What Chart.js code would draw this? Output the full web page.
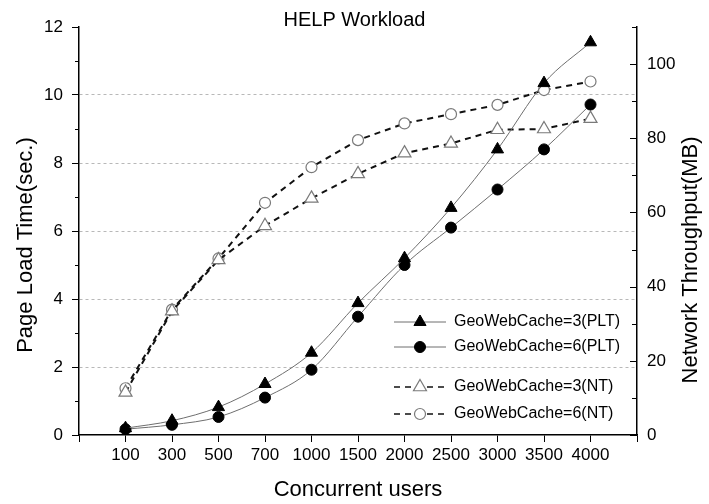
<!DOCTYPE html>
<html>
<head>
<meta charset="utf-8">
<title>HELP Workload</title>
<script src="https://cdn.jsdelivr.net/npm/chart.js@4.4.0/dist/chart.umd.min.js"></script>
<style>
  html, body { margin: 0; padding: 0; background: #fff; }
  #wrap { width: 709px; height: 504px; }
</style>
</head>
<body>
<div id="wrap"><canvas id="chart" width="709" height="504"></canvas></div>
<script>
// --- values ---
const users = ['100', '300', '500', '700', '1000', '1500', '2000', '2500', '3000', '3500', '4000'];
// page load time, seconds (left axis)
const pltGwc3 = [0.2, 0.42, 0.82, 1.5, 2.42, 3.88, 5.2, 6.68, 8.4, 10.35, 11.55];
const pltGwc6 = [0.17, 0.3, 0.53, 1.1, 1.92, 3.48, 5.0, 6.1, 7.22, 8.4, 9.72];
// network throughput, MB (right axis)
const ntGwc3 = [11.5, 33.4, 47.2, 56.4, 63.8, 70.4, 76.0, 78.6, 82.3, 82.5, 85.3];
const ntGwc6 = [12.6, 33.8, 47.6, 62.6, 72.2, 79.5, 84.0, 86.5, 89.0, 93.0, 95.3];

const FONT = '"Liberation Sans", Arial, sans-serif';

// users are spread evenly, one slot each, with an empty slot at both ends
const toPoints = arr => arr.map((v, i) => ({ x: i + 1, y: v }));

// minor ticks, inward ticks on the right axis, rotated axis titles
const axisExtras = {
    id: 'axisExtras',
    afterDraw(chart) {
        const ctx = chart.ctx;
        const yL = chart.scales.y;
        const yR = chart.scales.y1;
        const area = chart.chartArea;
        ctx.save();
        ctx.strokeStyle = '#000';
        ctx.lineWidth = 1;
        ctx.beginPath();
        for (let v = 1; v < 12; v += 2) {
            const py = Math.round(yL.getPixelForValue(v)) + 0.5;
            ctx.moveTo(area.left - 4, py);
            ctx.lineTo(area.left, py);
        }
        for (let v = 0; v <= 110; v += 10) {
            const py = Math.round(yR.getPixelForValue(v)) + 0.5;
            const len = v % 20 === 0 ? 7 : 5;
            ctx.moveTo(area.right - len, py);
            ctx.lineTo(area.right, py);
        }
        ctx.stroke();

        ctx.fillStyle = '#000';
        ctx.font = '22px ' + FONT;
        ctx.textAlign = 'center';
        ctx.textBaseline = 'middle';
        ctx.translate(26, 245);
        ctx.rotate(-Math.PI / 2);
        ctx.fillText('Page Load Time(sec.)', 0, 0);
        ctx.setTransform(1, 0, 0, 1, 0, 0);
        ctx.translate(691, 260);
        ctx.rotate(-Math.PI / 2);
        ctx.fillText('Network Throughput(MB)', 0, 0);
        ctx.restore();
    }
};

// legend drawn inside the plot, line sample with the marker on it
const innerLegend = {
    id: 'innerLegend',
    afterDraw(chart) {
        const ctx = chart.ctx;
        const rows = [322, 347, 387, 414];
        ctx.save();
        chart.data.datasets.forEach((ds, i) => {
            const y = rows[i];
            ctx.strokeStyle = ds.borderColor;
            ctx.lineWidth = ds.borderDash ? 1.5 : 1;
            ctx.setLineDash(ds.borderDash ? [6, 5] : []);
            ctx.beginPath();
            ctx.moveTo(394, y);
            ctx.lineTo(446, y);
            ctx.stroke();
            ctx.setLineDash([]);
            ctx.fillStyle = ds.pointBackgroundColor;
            ctx.strokeStyle = ds.pointBorderColor;
            ctx.lineWidth = ds.pointBorderWidth;
            Chart.helpers.drawPoint(ctx, {
                pointStyle: ds.pointStyle,
                radius: ds.pointRadius,
                rotation: 0,
                borderWidth: ds.pointBorderWidth
            }, 420, y);
            ctx.fillStyle = '#000';
            ctx.font = '16px ' + FONT;
            ctx.textAlign = 'left';
            ctx.textBaseline = 'middle';
            ctx.fillText(ds.label, 454, y);
        });
        ctx.restore();
    }
};

const pltStyle = {
    yAxisID: 'y',
    borderColor: '#6e6e6e',
    borderWidth: 1,
    pointBackgroundColor: '#000',
    pointBorderColor: '#000',
    pointBorderWidth: 1,
    cubicInterpolationMode: 'monotone'
};
const ntStyle = {
    yAxisID: 'y1',
    borderColor: '#111',
    borderWidth: 2,
    borderDash: [6, 5],
    pointBackgroundColor: '#fff',
    pointBorderColor: '#7a7a7a',
    pointBorderWidth: 1.2,
    tension: 0
};

new Chart(document.getElementById('chart'), {
    type: 'line',
    data: {
        datasets: [
            { ...pltStyle, label: 'GeoWebCache=3(PLT)', data: toPoints(pltGwc3), pointStyle: 'triangle', pointRadius: 7 },
            { ...pltStyle, label: 'GeoWebCache=6(PLT)', data: toPoints(pltGwc6), pointStyle: 'circle', pointRadius: 5.5 },
            { ...ntStyle, label: 'GeoWebCache=3(NT)', data: toPoints(ntGwc3), pointStyle: 'triangle', pointRadius: 7.5 },
            { ...ntStyle, label: 'GeoWebCache=6(NT)', data: toPoints(ntGwc6), pointStyle: 'circle', pointRadius: 5.5 }
        ]
    },
    options: {
        responsive: false,
        animation: false,
        devicePixelRatio: 1,
        layout: { padding: 0 },
        plugins: {
            legend: { display: false },
            tooltip: { enabled: false },
            title: {
                display: true,
                text: 'HELP Workload',
                color: '#000',
                font: { family: FONT, size: 20, weight: 'normal', lineHeight: 0.7 },
                padding: { top: 13, bottom: 0 }
            }
        },
        scales: {
            x: {
                type: 'linear',
                min: 0,
                max: 12,
                afterFit: s => { s.height = 69; },
                afterBuildTicks: s => { s.ticks = Array.from({ length: 13 }, (_, i) => ({ value: i })); },
                ticks: {
                    color: '#000',
                    font: { family: FONT, size: 17 },
                    padding: 3,
                    maxRotation: 0,
                    autoSkip: false,
                    callback: v => users[v - 1] || ''
                },
                grid: { drawOnChartArea: false, tickLength: 7, tickColor: '#000' },
                border: { color: '#000', width: 1.5 },
                title: {
                    display: true,
                    text: 'Concurrent users',
                    color: '#000',
                    font: { family: FONT, size: 22 },
                    padding: { top: 0, bottom: 1 }
                }
            },
            y: {
                position: 'left',
                min: 0,
                max: 12,
                afterFit: s => { s.width = 79; },
                ticks: { stepSize: 2, color: '#000', font: { family: FONT, size: 17 }, padding: 9 },
                grid: {
                    color: c => (c.tick && (c.tick.value === 0 || c.tick.value === 12)) ? 'rgba(0,0,0,0)' : '#b8b8b8',
                    lineWidth: 1,
                    tickLength: 7,
                    tickColor: '#000'
                },
                border: { color: '#000', width: 1.5, dash: [3, 3] }
            },
            y1: {
                position: 'right',
                min: 0,
                max: 110,
                afterFit: s => { s.width = 72; },
                afterBuildTicks: s => { s.ticks = [0, 20, 40, 60, 80, 100].map(v => ({ value: v })); },
                ticks: { color: '#000', font: { family: FONT, size: 17 }, padding: 10 },
                grid: { drawOnChartArea: false, drawTicks: false },
                border: { color: '#000', width: 1.5 }
            }
        }
    },
    plugins: [axisExtras, innerLegend]
});
</script>
</body>
</html>
